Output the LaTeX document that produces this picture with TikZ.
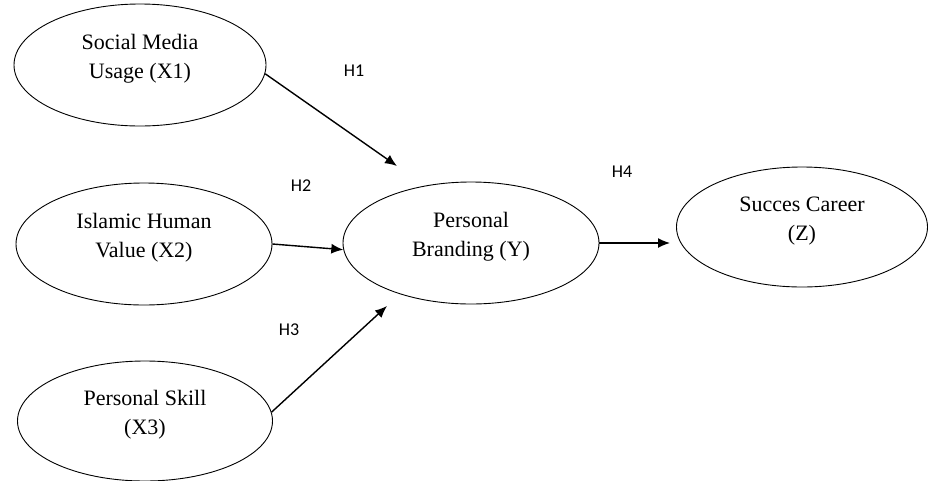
\documentclass[tikz,border=0pt]{standalone}
\usepackage{fontspec}
\setmainfont{Liberation Serif}
\newfontfamily\hfont{Carlito}
\usetikzlibrary{shapes.geometric,arrows.meta}
\tikzset{
  oval/.style={ellipse, draw=black, line width=0.9pt, inner sep=0pt},
  txt/.style={align=center, font=\fontsize{22}{29}\selectfont, inner sep=0pt},
  hyp/.style={font=\hfont\fontsize{18}{20}\selectfont, inner sep=0pt},
  conn/.style={line width=1.4pt, -{Latex[length=12pt,width=10pt]}}
}
\begin{document}
\begin{tikzpicture}[x=1pt,y=-1pt]
\useasboundingbox (0,0) rectangle (929,480);
% ellipses
\node[oval, minimum width=252pt, minimum height=122pt] (x1) at (140,65) {};
\node[oval, minimum width=256pt, minimum height=122pt] (x2) at (144,244) {};
\node[oval, minimum width=255pt, minimum height=120pt] (x3) at (145,421) {};
\node[oval, minimum width=256pt, minimum height=122pt] (y) at (471,243) {};
\node[oval, minimum width=251pt, minimum height=120pt] (z) at (802,227) {};
% texts
\node[txt] (tx1) at ([yshift=6pt]x1.center) {Social Media\\Usage (X1)};
\node[txt] (tx2) at ([yshift=6pt]x2.center) {Islamic Human\\Value (X2)};
\node[txt] (tx3) at ([yshift=6pt]x3.center) {Personal Skill\\(X3)};
\node[txt] (ty) at ([yshift=6pt]y.center) {Personal\\Branding (Y)};
\node[txt] (tz) at ([yshift=6pt]z.center) {Succes Career\\(Z)};
% hypothesis labels
\node[hyp] (h1) at (354,71) {H1};
\node[hyp] (h2) at (301,186) {H2};
\node[hyp] (h3) at (289,330) {H3};
\node[hyp] (h4) at (622,172) {H4};
% arrow tips
\coordinate (tip1) at (397,166);
\coordinate (tip3) at (387,306);
\coordinate (tip4) at (670,243);
% connectors
\draw[conn] (x1.-4) -- (tip1);
\draw[conn] (x2.east) -- (y.183);
\draw[conn] (x3.4) -- (tip3);
\draw[conn] (y.east) -- (tip4);
\end{tikzpicture}
\end{document}
